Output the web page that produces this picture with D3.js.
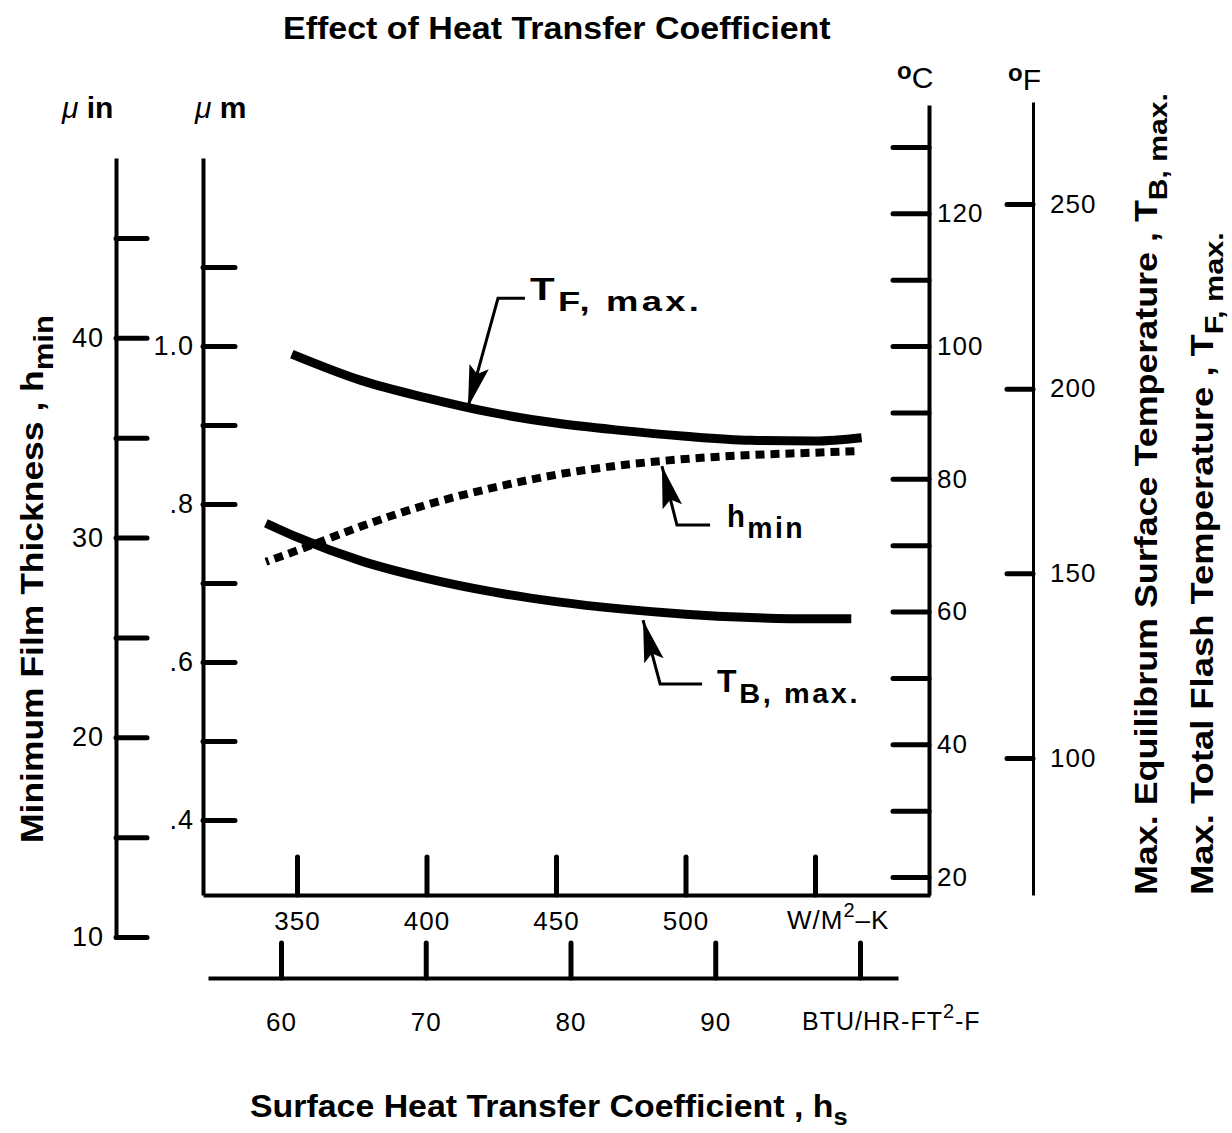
<!DOCTYPE html>
<html><head><meta charset="utf-8">
<script src="https://cdn.jsdelivr.net/npm/d3@7"></script>
<style>
body{margin:0;background:#fff;}
svg{display:block;background:#fff;}
text{font-family:"Liberation Sans",Arial,Helvetica,sans-serif;fill:#000;}
.cond{font-family:"Liberation Sans Narrow","Liberation Sans",Arial,sans-serif;font-weight:bold;}
</style></head><body>
<svg id="c" width="1232" height="1133"></svg>
<script>
// ---------------- data ----------------
const tfW  = [348, 375, 400, 425, 450, 475, 500, 525, 550, 568];
const tfC  = [98.8, 94.8, 92.2, 90.0, 88.4, 87.3, 86.4, 85.8, 85.7, 86.2];
const hW   = [338, 350, 375, 400, 425, 450, 475, 500, 525, 550, 567];
const hMin = [0.727, 0.741, 0.772, 0.799, 0.820, 0.837, 0.849, 0.857, 0.862, 0.865, 0.867];
const tbW  = [338, 350, 375, 400, 425, 450, 475, 500, 525, 550, 564];
const tbC  = [73.3, 71.2, 67.6, 65.0, 63.0, 61.5, 60.4, 59.6, 59.1, 58.9, 58.9];

const wTicks   = [350, 400, 450, 500, 550];
const wLabels  = ["350", "400", "450", "500", ""];
const btuTicks = [60, 70, 80, 90, 100];
const btuLabels= ["60", "70", "80", "90", ""];
const uinTicks = [10, 15, 20, 25, 30, 35, 40, 45];
const uinLabels= ["10", "", "20", "", "30", "", "40", ""];
const umTicks  = [0.4, 0.5, 0.6, 0.7, 0.8, 0.9, 1.0, 1.1];
const umLabels = [".4", "", ".6", "", ".8", "", "1.0", ""];
const cTicks   = [20, 30, 40, 50, 60, 70, 80, 90, 100, 110, 120, 130];
const cLabels  = ["20", "", "40", "", "60", "", "80", "", "100", "", "120", ""];
const fTicks   = [100, 150, 200, 250];
const fLabels  = ["100", "150", "200", "250"];

// annotations (data units)
const annTF = {tip: [416, 90.8], elbow: [427.6, 107.2], end: [438, 107.2], label: [440, 106.9]};
const annH  = {tip: [490.9, 0.848], elbow: [496.7, 0.7734], end: [509.5, 0.7734], label: [516, 0.7709]};
const annTB = {tip: [483.6, 58.7], elbow: [490.2, 49.1], end: [506.4, 49.1], label: [512.2, 47.9]};

// ---------------- scales ----------------
function lin(d0, d1, r0, r1, e0, e1) {
  const s = d3.scaleLinear().domain([d0, d1]).range([r0, r1]);
  return d3.scaleLinear().domain([s.invert(e0), s.invert(e1)]).range([e0, e1]);
}
const xW  = lin(350, 550, 297, 815, 203, 930);
const xB  = lin(60, 100, 281, 860, 208, 898);
const yIn = lin(10, 45, 937, 238, 937, 158);
const yUm = lin(0.4, 1.1, 820, 267, 895, 158);
const yC  = lin(20, 130, 877, 147, 895, 105);
const yF  = lin(100, 250, 758, 204, 895, 102);

const svg = d3.select("#c");

function styleAxis(g, dw, tw, fs) {
  g.attr("font-family", null).attr("font-size", null);
  g.select(".domain").attr("stroke", "#000").attr("stroke-width", dw);
  g.selectAll(".tick line").attr("stroke", "#000").attr("stroke-width", tw).attr("stroke-linecap", "round");
  g.selectAll(".tick text").attr("fill", "#000").attr("font-size", fs)
    .attr("font-family", '"Liberation Sans",Arial,sans-serif').attr("letter-spacing", 1);
}

// μin axis
svg.append("g").attr("transform", "translate(116,0)")
  .call(d3.axisLeft(yIn).tickValues(uinTicks).tickFormat((d, i) => uinLabels[i])
    .tickSizeInner(-31).tickSizeOuter(0).tickPadding(12))
  .call(g => styleAxis(g, 4, 5, 27));
// μm axis
svg.append("g").attr("transform", "translate(203,0)")
  .call(d3.axisLeft(yUm).tickValues(umTicks).tickFormat((d, i) => umLabels[i])
    .tickSizeInner(-32).tickSizeOuter(0).tickPadding(9))
  .call(g => styleAxis(g, 4, 5, 27));
// W/m2K axis
svg.append("g").attr("transform", "translate(0,895)")
  .call(d3.axisBottom(xW).tickValues(wTicks).tickFormat((d, i) => wLabels[i])
    .tickSizeInner(-38).tickSizeOuter(0).tickPadding(17))
  .call(g => styleAxis(g, 4, 5, 26));
// BTU axis
svg.append("g").attr("transform", "translate(0,978)")
  .call(d3.axisBottom(xB).tickValues(btuTicks).tickFormat((d, i) => btuLabels[i])
    .tickSizeInner(-35).tickSizeOuter(0).tickPadding(35))
  .call(g => styleAxis(g, 4, 5, 26));
// °C axis
svg.append("g").attr("transform", "translate(929,0)")
  .call(d3.axisRight(yC).tickValues(cTicks).tickFormat((d, i) => cLabels[i])
    .tickSizeInner(-36).tickSizeOuter(0).tickPadding(8))
  .call(g => styleAxis(g, 4, 5, 26));
// °F axis
svg.append("g").attr("transform", "translate(1033,0)")
  .call(d3.axisRight(yF).tickValues(fTicks).tickFormat((d, i) => fLabels[i])
    .tickSizeInner(-26).tickSizeOuter(0).tickPadding(17))
  .call(g => styleAxis(g, 3, 5, 26));

// ---------------- curves ----------------
const lineC = d3.line().x(d => xW(d[0])).y(d => yC(d[1])).curve(d3.curveMonotoneX);
const lineH = d3.line().x(d => xW(d[0])).y(d => yUm(d[1])).curve(d3.curveMonotoneX);

svg.append("path").datum(tfW.map((w, i) => [w, tfC[i]])).attr("d", lineC)
  .attr("fill", "none").attr("stroke", "#000").attr("stroke-width", 9);
svg.append("path").datum(tbW.map((w, i) => [w, tbC[i]])).attr("d", lineC)
  .attr("fill", "none").attr("stroke", "#000").attr("stroke-width", 9);
const dash = ["3", "6"];
for (let i = 0; i < 50; i++) dash.push("9", "6");
svg.append("path").datum(hW.map((w, i) => [w, hMin[i]])).attr("d", lineH)
  .attr("fill", "none").attr("stroke", "#000").attr("stroke-width", 8)
  .attr("stroke-dasharray", dash.join(","));

// ---------------- text helper ----------------
function fitText(x, y, rot, width, parts, cls, size, weight, ls) {
  const g = svg.append("g").attr("transform", `translate(${x},${y}) rotate(${rot})`);
  const t = g.append("text").attr("font-size", size);
  if (cls) t.attr("class", cls);
  if (weight) t.attr("font-weight", weight);
  if (ls) t.attr("letter-spacing", ls);
  parts.forEach(p => {
    const s = t.append("tspan").text(p.t);
    if (p.fs) s.attr("font-size", p.fs);
    if (p.dy) s.attr("dy", p.dy);
    if (p.it) s.attr("font-style", "italic");
  });
  const w = t.node().getBBox().width;
  t.attr("transform", `scale(${width / w},1)`);
}

// ---------------- annotations ----------------
function annotate(a, ys, parts, width) {
  const P = p => [xW(p[0]), ys(p[1])];
  const tip = P(a.tip), el = P(a.elbow), en = P(a.end), lb = P(a.label);
  svg.append("path").attr("d", `M${en[0]},${en[1]}L${el[0]},${el[1]}L${tip[0]},${tip[1]}`)
    .attr("fill", "none").attr("stroke", "#000").attr("stroke-width", 3);
  const dx = tip[0] - el[0], dy = tip[1] - el[1], L = Math.hypot(dx, dy);
  const ux = dx / L, uy = dy / L, nx = -uy, ny = ux, len = 42, hw = 10;
  const bx = tip[0] - ux * len, by = tip[1] - uy * len;
  const nxp = tip[0] - ux * len * 0.82, nyp = tip[1] - uy * len * 0.82;
  svg.append("path").attr("d",
    `M${tip[0]},${tip[1]}L${bx + nx * hw},${by + ny * hw}L${nxp},${nyp}L${bx - nx * hw},${by - ny * hw}Z`)
    .attr("fill", "#000");
  fitText(lb[0], lb[1], 0, width, parts, null, 31, "bold", 2.5);
}
annotate(annTF, yC, [{t: "T"}, {t: "F,  max.", fs: 28, dy: 11}], 172);
annotate(annH, yUm, [{t: "h"}, {t: "min", fs: 30, dy: 11}], 78);
annotate(annTB, yC, [{t: "T"}, {t: "B,  max.", fs: 28, dy: 11}], 143);

// ---------------- titles ----------------
fitText(283, 39, 0, 548, [{t: "Effect of Heat Transfer Coefficient"}], "cond", 31);
fitText(250, 1117, 0, 598, [{t: "Surface Heat Transfer Coefficient ,  h"}, {t: "s", fs: 24, dy: 8}], "cond", 32);
fitText(43, 843, -90, 528, [{t: "Minimum Film Thickness ,  h"}, {t: "min", fs: 28, dy: 10}], "cond", 32);
fitText(1157, 895, -90, 802, [{t: "Max. Equilibrum Surface Temperature ,  T"}, {t: "B, max.", fs: 26, dy: 10}], "cond", 31);
fitText(1213, 895, -90, 663, [{t: "Max. Total Flash Temperature ,  T"}, {t: "F, max.", fs: 26, dy: 10}], "cond", 31);

// unit headers
function header(x, y, parts) {
  const t = svg.append("text").attr("x", x).attr("y", y).attr("font-weight", "bold").attr("font-size", 30);
  parts.forEach(p => {
    const s = t.append("tspan").text(p.t);
    if (p.it) s.attr("font-style", "italic").attr("font-weight", "normal");
    if (p.fs) s.attr("font-size", p.fs);
    if (p.dy) s.attr("dy", p.dy);
    if (p.w) s.attr("font-weight", p.w);
  });
}
header(62, 118, [{t: "μ", it: true}, {t: " in"}]);
header(195, 118, [{t: "μ", it: true}, {t: " m"}]);
header(897, 88, [{t: "o", fs: 24, dy: -9}, {t: "C", fs: 30, dy: 9, w: "normal"}]);
header(1008, 90, [{t: "o", fs: 24, dy: -9}, {t: "F", fs: 30, dy: 9, w: "normal"}]);

// unit labels on the x axes
const u1 = svg.append("text").attr("x", 787).attr("y", 929).attr("font-size", 26).attr("letter-spacing", 1);
u1.append("tspan").text("W/M");
u1.append("tspan").text("2").attr("font-size", 20).attr("dy", -12);
u1.append("tspan").text("\u2013K").attr("dy", 12);
const u2 = svg.append("text").attr("x", 802).attr("y", 1030).attr("font-size", 25).attr("letter-spacing", 1);
u2.append("tspan").text("BTU/HR-FT");
u2.append("tspan").text("2").attr("font-size", 20).attr("dy", -12);
u2.append("tspan").text("-F").attr("dy", 12);
</script>
</body></html>
